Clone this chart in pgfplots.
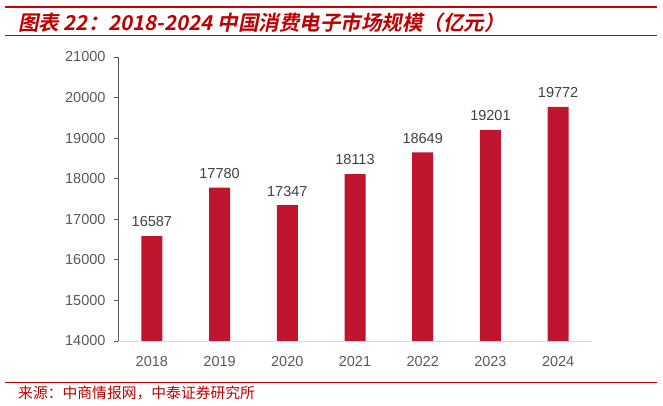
\documentclass[border=0pt]{standalone}
\usepackage{fontspec}
\setmainfont{Liberation Sans}
\newfontfamily\cjk{Noto Sans CJK SC}
\newfontfamily\cjktitle[BoldFont={* Bold}, BoldFeatures={FakeSlant=0.2}]{Noto Sans CJK SC}
\usepackage{pgfplots}
\pgfplotsset{compat=1.18}

\definecolor{barred}{RGB}{192,21,47}
\definecolor{titlered}{RGB}{192,0,0}
\definecolor{linered}{RGB}{204,0,0}
\definecolor{ticktext}{RGB}{89,89,89}
\definecolor{valtext}{RGB}{64,64,64}

\begin{document}
\begin{tikzpicture}
  % page frame, 1px = 1pt
  \path[use as bounding box] (0pt,0pt) rectangle (663pt,406pt);

  % header
  \draw[linered, line width=2.3pt] (5pt,399.3pt) -- (657pt,399.3pt);
  \node[anchor=west, inner sep=0pt, text=titlered] at (18pt,383pt)
    {\cjktitle\bfseries\fontsize{20.5}{20.5}\selectfont 图表 22：2018-2024 中国消费电子市场规模（亿元）};
  \draw[linered, line width=0.9pt] (5pt,371pt) -- (657pt,371pt);

  % footer
  \draw[linered, line width=0.9pt] (5pt,24pt) -- (657pt,24pt);
  \node[anchor=west, inner sep=0pt, text=titlered] at (18pt,13pt)
    {\cjk\fontsize{14.8}{14.8}\selectfont 来源：中商情报网，中泰证券研究所};

  \begin{axis}[
      at={(118pt,65pt)}, anchor=south west,
      scale only axis,
      width=474pt, height=284pt,
      xmin=-0.5, xmax=6.5,
      ymin=14000, ymax=21000,
      ytick={14000,15000,...,21000},
      scaled y ticks=false,
      xtick={0,...,6},
      xticklabels={2018,2019,2020,2021,2022,2023,2024},
      axis x line*=bottom, axis y line*=left,
      x axis line style={draw=black!15, line width=0.8pt},
      y axis line style={draw=ticktext, line width=0.9pt},
      xtick style={draw=none},
      ytick style={draw=ticktext, line width=0.9pt},
      tick align=outside, major tick length=4pt,
      /pgf/number format/assume math mode=true,
      /pgf/number format/1000 sep={},
      tick label style={font=\fontsize{14.5}{14.5}\selectfont, text=ticktext},
      yticklabel style={xshift=-5pt},
      xticklabel style={yshift=-8pt},
      ybar, bar width=21pt,
      nodes near coords,
      every node near coord/.append style={font=\fontsize{14.5}{14.5}\selectfont, text=valtext, yshift=5.5pt},
    ]
    \addplot[fill=barred, draw=none] coordinates {
      (0,16587) (1,17780) (2,17347) (3,18113) (4,18649) (5,19201) (6,19772)
    };
  \end{axis}
\end{tikzpicture}
\end{document}
